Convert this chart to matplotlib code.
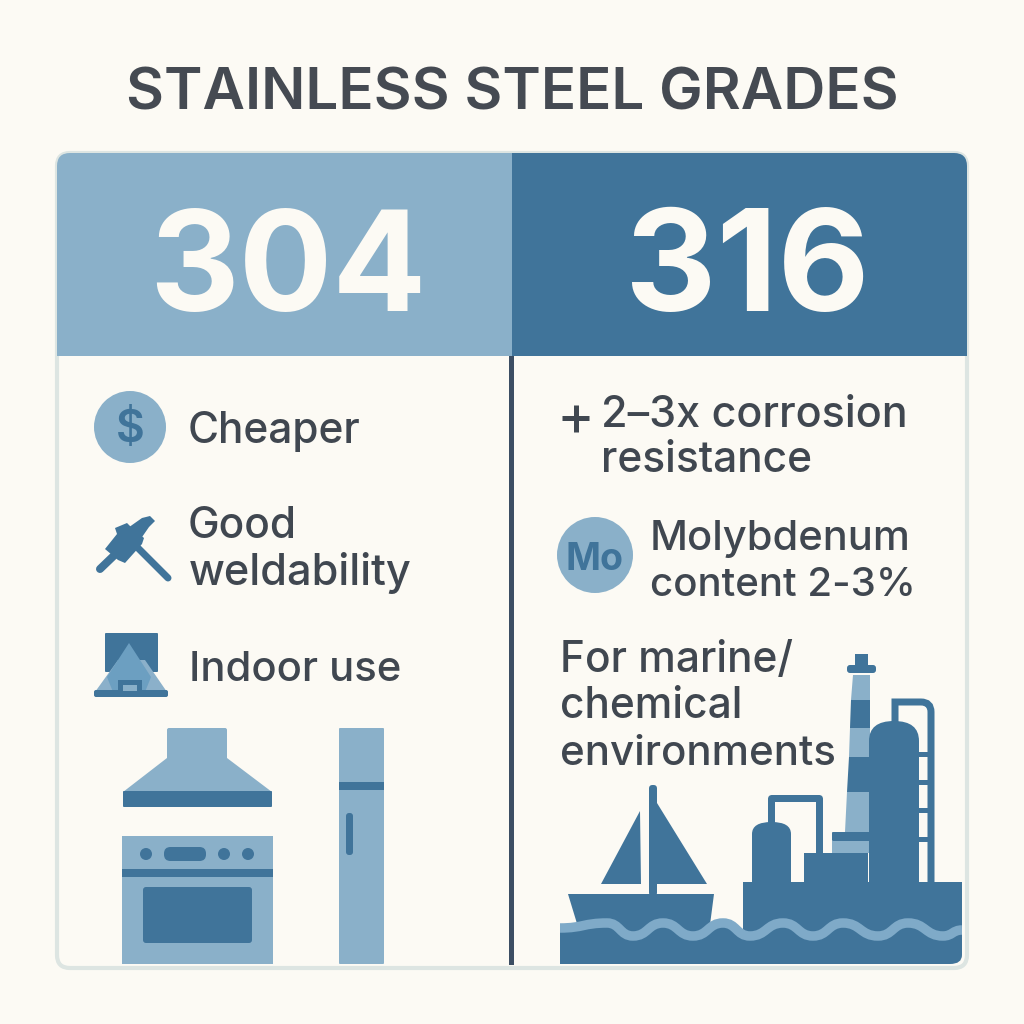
import matplotlib
matplotlib.use("Agg")
import matplotlib.pyplot as plt
from matplotlib.patches import Rectangle, Polygon, Circle, FancyBboxPatch, PathPatch
from matplotlib.path import Path

TITLE = "STAINLESS STEEL GRADES"
GRADES = ["304", "316"]
GRADE_SIZES = [100, 102]
LEFT_LINES = [("Cheaper", 188, 443, 30.5), ("Good", 188, 538, 30.5), ("weldability", 189, 585, 31.2), ("Indoor use", 189, 681, 30.1)]
RIGHT_LINES = [("2–3x corrosion", 601, 427, 31.0), ("resistance", 601, 472, 30.5), ("Molybdenum", 650, 550, 30.0),
               ("content 2-3%", 650, 596, 29.0), ("For marine/", 560, 672, 30.5), ("chemical", 560, 718, 30.5),
               ("environments", 560, 765, 30.3)]
WAVE_CRESTS = [607, 663, 723, 783, 843, 908]
WAVE_TROUGHS = [560, 633, 693, 750, 813, 878, 943]

BG = "#FCFAF4"; LIGHT = "#8AB0C9"; DARK = "#40749A"; INK = "#404750"; EDGE = "#DDE5E2"; MID = "#6C9FC1"

plt.rcParams["font.family"] = ["Inter", "DejaVu Sans"]
fig = plt.figure(figsize=(10.24, 10.24), dpi=100, facecolor=BG)
ax = fig.add_axes([0, 0, 1, 1])
ax.set_xlim(0, 1024); ax.set_ylim(1024, 0); ax.axis("off")

def rect(x0, y0, x1, y1, c=DARK, z=3, **k):
    return ax.add_patch(Rectangle((x0, y0), x1 - x0, y1 - y0, fc=c, ec="none", zorder=z, **k))
def rrect(x0, y0, x1, y1, r, c=DARK, z=3, ec="none", lw=0):
    return ax.add_patch(FancyBboxPatch((x0 + r, y0 + r), x1 - x0 - 2 * r, y1 - y0 - 2 * r,
                        boxstyle=f"round,pad={r},rounding_size={r}", fc=c, ec=ec, lw=lw, zorder=z))
def poly(pts, c=DARK, z=3):
    return ax.add_patch(Polygon(pts, closed=True, fc=c, ec="none", zorder=z))
def circ(x, y, r, c=DARK, z=3):
    return ax.add_patch(Circle((x, y), r, fc=c, ec="none", zorder=z))
def stroke(pts, lw, c=DARK, z=3, cap="round"):
    ax.plot(*zip(*pts), color=c, lw=lw * 0.72, solid_capstyle=cap, solid_joinstyle="round", zorder=z)
def dome(x0, x1, top, bottom, rad, c=DARK, z=4):
    V = [(x0, bottom), (x0, top + rad), (x0, top), ((x0 + x1) / 2, top), (x1, top), (x1, top + rad), (x1, bottom), (x0, bottom)]
    C = [Path.MOVETO, Path.LINETO, Path.CURVE3, Path.CURVE3, Path.CURVE3, Path.CURVE3, Path.LINETO, Path.CLOSEPOLY]
    ax.add_patch(PathPatch(Path(V, C), fc=c, ec="none", zorder=z))

# panel
frame = rrect(57, 153, 967, 968, 13, BG, 1, EDGE, 3)
clip = FancyBboxPatch((70, 166), 884, 789, boxstyle="round,pad=13,rounding_size=13", transform=ax.transData, fc="none", ec="none")
ax.add_patch(clip)
for (x0, x1, c) in [(56, 511.5, LIGHT), (511.5, 968, DARK)]:
    rect(x0, 153, x1, 356, c, 2).set_clip_path(clip)
rect(509, 356, 514, 965, "#3C4E63", 2)

# title and header
ax.text(512, 109, TITLE, ha="center", va="baseline", fontsize=42, fontweight="semibold", color="#454A52", zorder=6)
for g, x, fs in zip(GRADES, [288, 747], GRADE_SIZES):
    ax.text(x, 311, g, ha="center", va="baseline", fontsize=fs, fontweight="bold", color=BG, zorder=6)

# body text
for s, x, y, fs in LEFT_LINES + RIGHT_LINES:
    ax.text(x, y, s, ha="left", va="baseline", fontsize=fs, fontweight="medium", color=INK, zorder=6)
stroke([(562, 418), (589, 418)], 5, INK, cap="butt")
stroke([(576, 405), (576, 432)], 5, INK, cap="butt")

# dollar icon
circ(130, 427, 36, LIGHT)
ax.text(130, 442, "$", ha="center", va="baseline", fontsize=32, fontweight="semibold", color=DARK, zorder=5)
# Mo icon
circ(595, 555, 38, LIGHT)
ax.text(595, 570, "Mo", ha="center", va="baseline", fontsize=27, fontweight="bold", color=DARK, zorder=5)

# weld icon
stroke([(100, 569), (125, 545)], 8)
stroke([(135, 545), (168, 578)], 7)
poly([(125, 530), (142, 518), (150, 516), (155, 521), (149, 527), (140, 540)])
poly([(105, 549), (117, 534), (115, 528), (127, 523), (132, 528), (144, 538), (142, 544), (125, 563), (118, 560)])
# indoor icon
rrect(105, 633, 158, 672, 1, DARK)
poly([(95, 692), (118, 660), (145, 660), (167, 692)], "#8BB0CA", 4)
poly([(129, 643), (107, 677), (113, 692), (145, 692), (151, 677)], MID, 5)
rrect(94, 690, 168, 697, 2, DARK, 6)
rect(118, 680, 142, 691, DARK, 6)
rect(123, 685, 137, 691, LIGHT, 7)

# hood
rrect(167, 728, 227, 765, 2, LIGHT)
poly([(167, 758), (227, 758), (272, 792), (123, 792)], LIGHT)
rrect(123, 791, 272, 807, 1, DARK)
# oven
rect(122, 836, 273, 964, LIGHT)
for x in (146, 224, 248):
    circ(x, 854, 6, DARK, 4)
rrect(164, 847, 206, 861, 6.5, DARK, 4)
rect(122, 869, 273, 877, DARK, 4)
rrect(143, 887, 252, 943, 3, DARK, 4)
# fridge
rrect(339, 728, 384, 964, 1, LIGHT)
rect(339, 782, 384, 790, DARK, 4)
rrect(346, 813, 353, 855, 3, DARK, 4)

# boat
poly([(568, 894), (714, 894), (708, 940), (582, 940)])
rrect(649, 785, 657, 896, 3.5)
poly([(640, 811), (641, 884), (601, 884)])
poly([(657, 803), (707, 884), (657, 884)])

# plant
rect(743, 882, 962, 940)
rect(804, 853, 868, 883)
dome(752, 791, 822, 883, 12)
stroke([(771, 825), (771, 798), (819, 798), (819, 855)], 7, z=3, cap="butt")
# chimney
H = [675, 700, 728, 757, 792, 832]
def cx(y):
    t = (y - 675) / 157
    return 852.7 - 7.7 * t, 870
for i in range(5):
    a, b = H[i], H[i + 1]
    poly([(cx(a)[0], a), (cx(a)[1], a), (cx(b)[1], b), (cx(b)[0], b)], LIGHT if i % 2 == 0 else DARK, 3)
rrect(832, 832, 870, 841, 1, DARK)
rect(832, 841, 870, 853, LIGHT)
rect(855, 654, 868, 668)
rrect(847, 665, 876, 673, 3)
dome(869, 919, 721, 883, 20)
for y in (752, 780, 808, 837):
    rect(919, y, 928, y + 5)
V = [(895, 724), (895, 702), (921, 702), (931, 702), (931, 712), (931, 884)]
C = [Path.MOVETO, Path.LINETO, Path.LINETO, Path.CURVE3, Path.CURVE3, Path.LINETO]
ax.add_patch(PathPatch(Path(V, C), fc="none", ec=DARK, lw=7 * 0.72, zorder=3))

# water with wave band
xs = sorted(WAVE_CRESTS + WAVE_TROUGHS) + [962]
ys = [936 if x in WAVE_TROUGHS else 923 for x in xs[:-1]] + [930]
ys[0] = 928
verts = [(xs[0], ys[0])]; codes = [Path.MOVETO]
for i in range(len(xs) - 1):
    m = (xs[i] + xs[i + 1]) / 2
    verts += [(m, ys[i]), (m, ys[i + 1]), (xs[i + 1], ys[i + 1])]
    codes += [Path.CURVE4] * 3
water = verts + [(962, 955), (962, 964), (950, 964), (560, 964), (560, ys[0])]
wcodes = codes + [Path.LINETO, Path.CURVE3, Path.CURVE3, Path.LINETO, Path.LINETO]
ax.add_patch(PathPatch(Path(water, wcodes), fc=DARK, ec="none", zorder=7))
clipw = Rectangle((560, 900), 402, 60, transform=ax.transData)
ln = PathPatch(Path(verts, codes), fc="none", ec="#7FAAC8", lw=9.5 * 0.72, zorder=8)
ax.add_patch(ln); ln.set_clip_path(clipw)

fig.savefig("out.png", dpi=100, facecolor=BG)
